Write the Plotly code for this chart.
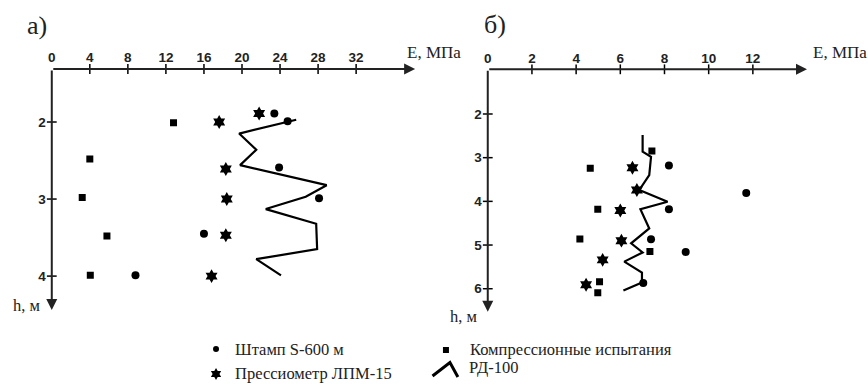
import plotly.graph_objects as go

# ---------------- data: panel a) ----------------
a_comp_E = [12.8, 4.0, 3.2, 5.8, 4.05]
a_comp_h = [2.01, 2.48, 2.98, 3.48, 3.99]
a_stamp_E = [23.4, 24.8, 23.9, 28.1, 16.0, 8.8]
a_stamp_h = [1.89, 1.99, 2.59, 2.99, 3.45, 3.99]
a_press_E = [21.8, 17.6, 18.3, 18.4, 18.3, 16.8]
a_press_h = [1.89, 2.00, 2.61, 3.00, 3.47, 4.00]
a_rd_E = [25.7, 19.7, 21.5, 19.8, 28.9, 26.7, 22.5, 27.8, 27.9, 21.5, 24.1]
a_rd_h = [1.97, 2.15, 2.36, 2.56, 2.82, 2.97, 3.13, 3.32, 3.65, 3.78, 3.99]

# ---------------- data: panel б) ----------------
b_comp_E = [7.43, 4.64, 4.98, 4.17, 7.34, 5.06, 4.98]
b_comp_h = [2.85, 3.24, 4.18, 4.86, 5.15, 5.84, 6.09]
b_stamp_E = [8.2, 11.7, 8.2, 7.39, 8.96, 7.04]
b_stamp_h = [3.18, 3.81, 4.18, 4.87, 5.16, 5.87]
b_press_E = [6.55, 6.75, 6.0, 6.05, 5.2, 4.45]
b_press_h = [3.23, 3.74, 4.21, 4.90, 5.34, 5.91]
b_rd_E = [7.01, 7.01, 7.39, 7.31, 6.86, 8.14, 6.91, 7.31, 6.49, 7.01, 6.18, 6.98, 6.98, 6.14]
b_rd_h = [2.48, 2.86, 2.98, 3.40, 3.74, 4.01, 4.18, 4.62, 4.96, 5.17, 5.38, 5.63, 5.86, 6.04]

# ---------------- axes / ticks ----------------
a_xticks = [0, 4, 8, 12, 16, 20, 24, 28, 32]
a_yticks = [2, 3, 4]
b_xticks = [0, 2, 4, 6, 8, 10, 12]
b_yticks = [2, 3, 4, 5, 6]

legend_labels = ["Штамп S-600 м", "Компрессионные испытания", "Прессиометр ЛПМ-15", "РД-100"]

W, H = 868, 387
A_XR = [0, 38.2]
A_YR = [4.44, 1.312]
B_XR = [0, 14.45]
B_YR = [6.526, 0.977]

SERIF = "Liberation Serif"
SANS = "Liberation Sans"

fig = go.Figure()


def add_panel(xa, ya, comp, stamp, press, rd, xticks, yticks, xr, yr):
    # RD-100 line
    fig.add_trace(go.Scatter(x=rd[0], y=rd[1], mode="lines", line=dict(color="black", width=2.2),
                             xaxis=xa, yaxis=ya, showlegend=False, hoverinfo="skip"))
    fig.add_trace(go.Scatter(x=comp[0], y=comp[1], mode="markers",
                             marker=dict(symbol="square", size=7, color="black"),
                             xaxis=xa, yaxis=ya, showlegend=False))
    fig.add_trace(go.Scatter(x=stamp[0], y=stamp[1], mode="markers",
                             marker=dict(symbol="circle", size=8, color="black"),
                             xaxis=xa, yaxis=ya, showlegend=False))
    fig.add_trace(go.Scatter(x=press[0], y=press[1], mode="markers",
                             marker=dict(symbol="hexagram", size=10.5, color="black"),
                             xaxis=xa, yaxis=ya, showlegend=False))
    # tick marks crossing the axis lines
    xt = [v for v in xticks if v != 0]
    fig.add_trace(go.Scatter(x=xt, y=[yr[1]] * len(xt), mode="markers", cliponaxis=False,
                             marker=dict(symbol="line-ns", size=7, line=dict(color="black", width=1.5)),
                             xaxis=xa, yaxis=ya, showlegend=False, hoverinfo="skip"))
    fig.add_trace(go.Scatter(x=[0] * len(yticks), y=yticks, mode="markers", cliponaxis=False,
                             marker=dict(symbol="line-ew", size=7, line=dict(color="black", width=1.5)),
                             xaxis=xa, yaxis=ya, showlegend=False, hoverinfo="skip"))
    # axis arrows
    fig.add_annotation(x=xr[1], y=yr[1], ax=0, ay=yr[1], xref=xa, yref=ya, axref=xa, ayref=ya,
                       showarrow=True, arrowhead=2, arrowsize=1.1, arrowwidth=2, arrowcolor="#222",
                       text="")
    fig.add_annotation(x=0, y=yr[0], ax=0, ay=yr[1], xref=xa, yref=ya, axref=xa, ayref=ya,
                       showarrow=True, arrowhead=2, arrowsize=1.1, arrowwidth=2, arrowcolor="#222",
                       text="")


add_panel("x", "y", (a_comp_E, a_comp_h), (a_stamp_E, a_stamp_h), (a_press_E, a_press_h),
          (a_rd_E, a_rd_h), a_xticks, a_yticks, A_XR, A_YR)
add_panel("x2", "y2", (b_comp_E, b_comp_h), (b_stamp_E, b_stamp_h), (b_press_E, b_press_h),
          (b_rd_E, b_rd_h), b_xticks, b_yticks, B_XR, B_YR)

# ---------------- custom legend (pixel helper axes) ----------------
fig.add_trace(go.Scatter(x=[213], y=[349], mode="markers", marker=dict(symbol="circle", size=6, color="black"),
                         xaxis="x3", yaxis="y3", showlegend=False, hoverinfo="skip"))
fig.add_trace(go.Scatter(x=[444], y=[350], mode="markers", marker=dict(symbol="square", size=6, color="black"),
                         xaxis="x3", yaxis="y3", showlegend=False, hoverinfo="skip"))
fig.add_trace(go.Scatter(x=[213], y=[374], mode="markers", marker=dict(symbol="hexagram", size=9, color="black"),
                         xaxis="x3", yaxis="y3", showlegend=False, hoverinfo="skip"))
fig.add_trace(go.Scatter(x=[430.5, 448, 456], y=[376, 362.5, 377], mode="lines",
                         line=dict(color="black", width=3),
                         xaxis="x3", yaxis="y3", showlegend=False, hoverinfo="skip"))
leg_pos = [(230, 349), (466, 349), (230, 373), (465, 367)]
for lab, (px, py) in zip(legend_labels, leg_pos):
    fig.add_annotation(x=px, y=py, xref="x3", yref="y3", text=lab, showarrow=False,
                       xanchor="left", yanchor="middle", font=dict(family=SERIF, size=16.5, color="#222"))

# axis titles / panel labels
texts = [
    ("а)", 21, 25, 26, "left"),
    ("б)", 480, 24, 26, "left"),
    ("E, МПа", 403, 52, 17, "left"),
    ("E, МПа", 811, 52, 17, "left"),
    ("h, м", 7, 305, 16.5, "left"),
    ("h, м", 446, 316, 16.5, "left"),
]
for t, px, py, sz, anc in texts:
    fig.add_annotation(x=px, y=py, xref="x3", yref="y3", text=t, showarrow=False,
                       xanchor=anc, yanchor="middle", font=dict(family=SERIF, size=sz, color="#222"))

tickfont = dict(family=SANS, size=13.5, color="#222", weight="bold")
common_x = dict(side="top", showgrid=False, zeroline=False, showline=False, ticks="",
                tickfont=tickfont, ticklabelstandoff=3, fixedrange=True)
common_y = dict(showgrid=False, zeroline=False, showline=False, ticks="",
                tickfont=tickfont, ticklabelstandoff=5, fixedrange=True)

fig.update_layout(
    width=W, height=H,
    margin=dict(l=0, r=0, t=0, b=0),
    paper_bgcolor="white", plot_bgcolor="rgba(0,0,0,0)",
    showlegend=False,
    font=dict(family=SERIF),
    xaxis=dict(domain=[48 / W, 413 / W], range=A_XR, tickvals=a_xticks, anchor="y", **common_x),
    yaxis=dict(domain=[1 - 310 / H, 1 - 69 / H], range=A_YR, tickvals=a_yticks, anchor="x", **common_y),
    xaxis2=dict(domain=[486 / W, 806.7 / W], range=B_XR, tickvals=b_xticks, anchor="y2", **common_x),
    yaxis2=dict(domain=[1 - 311.7 / H, 1 - 69.3 / H], range=B_YR, tickvals=b_yticks, anchor="x2", **common_y),
    xaxis3=dict(domain=[0, 1], range=[0, W], visible=False, anchor="y3", fixedrange=True),
    yaxis3=dict(domain=[0, 1], range=[H, 0], visible=False, anchor="x3", fixedrange=True),
)

fig.write_html("out.html")
